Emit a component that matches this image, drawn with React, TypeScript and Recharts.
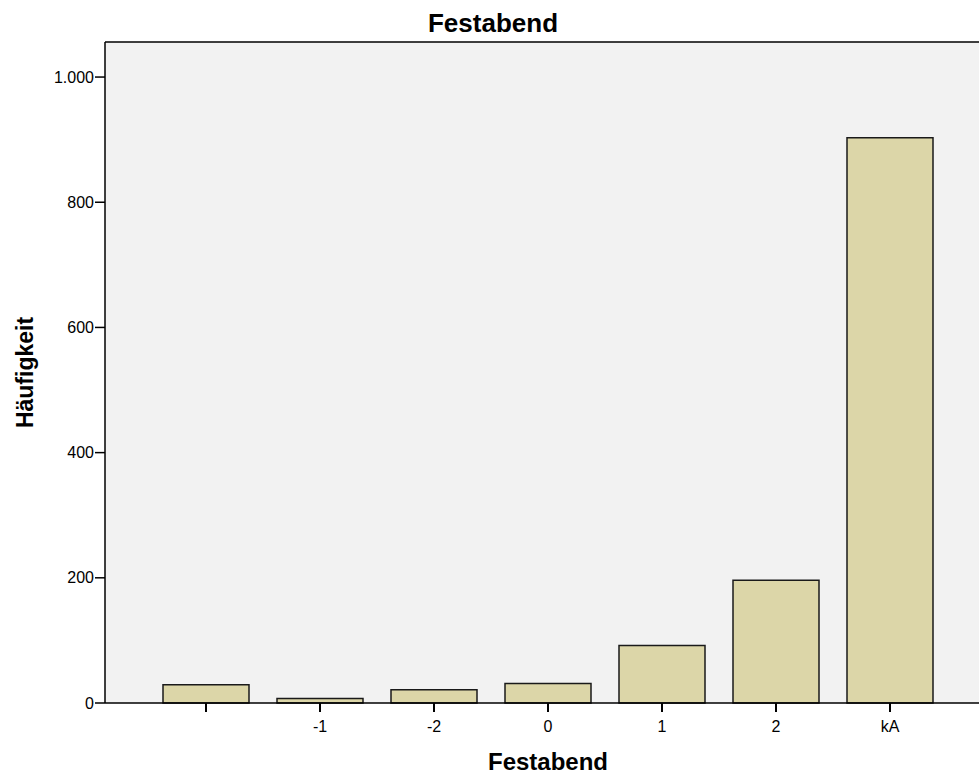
import { BarChart, Bar, XAxis, YAxis, CartesianGrid, ReferenceLine } from 'recharts';

// Häufigkeiten je Antwortkategorie
const categories = ['', '-1', '-2', '0', '1', '2', 'kA'];
const counts = [29, 7, 21, 31, 92, 196, 903];
const yTicks = [0, 200, 400, 600, 800, 1000];
const yMax = 1056;

const data = categories.map((name, i) => ({ name, count: counts[i] }));

const fontFamily = '"Liberation Sans", Arial, sans-serif';

// 1000 -> "1.000"
const formatTick = (v: number) => v.toLocaleString('de-DE');

export default function App() {
  return (
    <div style={{ position: 'absolute', left: 0, top: 0, width: 979, height: 776, background: '#fff', fontFamily }}>
      <div
        style={{
          position: 'absolute',
          left: 343,
          width: 300,
          top: 8,
          textAlign: 'center',
          fontSize: 26,
          fontWeight: 'bold',
          color: '#000',
        }}
      >
        Festabend
      </div>
      <BarChart
        width={979}
        height={776}
        data={data}
        margin={{ top: 42, right: 0, bottom: 43, left: 0 }}
      >
        <CartesianGrid fill="#f2f2f2" horizontal={false} vertical={false} />
        <ReferenceLine y={yMax} stroke="#000" strokeWidth={1.5} />
        <XAxis
          dataKey="name"
          height={30}
          padding={{ left: 44, right: 32 }}
          tickSize={9}
          tickMargin={9}
          axisLine={{ stroke: '#000', strokeWidth: 1.5 }}
          tickLine={{ stroke: '#000', strokeWidth: 2 }}
          tick={{ fill: '#000', fontSize: 16, fontFamily }}
          interval={0}
          label={{
            value: 'Festabend',
            position: 'bottom',
            offset: 20,
            fill: '#000',
            fontSize: 24,
            fontWeight: 'bold',
            fontFamily,
            dx: 6,
          }}
        />
        <YAxis
          width={105}
          domain={[0, yMax]}
          ticks={yTicks}
          tickFormatter={formatTick}
          tickSize={10}
          tickMargin={1}
          axisLine={{ stroke: '#000', strokeWidth: 1.5 }}
          tickLine={{ stroke: '#000', strokeWidth: 1.5 }}
          tick={{ fill: '#000', fontSize: 16, fontFamily }}
          label={{
            value: 'Häufigkeit',
            angle: -90,
            position: 'center',
            dx: -28,
            fill: '#000',
            fontSize: 23,
            fontWeight: 'bold',
            fontFamily,
          }}
        />
        <Bar
          dataKey="count"
          barSize={86}
          fill="#dcd6a8"
          stroke="#1a1a1a"
          strokeWidth={1.5}
          isAnimationActive={false}
        />
      </BarChart>
    </div>
  );
}
